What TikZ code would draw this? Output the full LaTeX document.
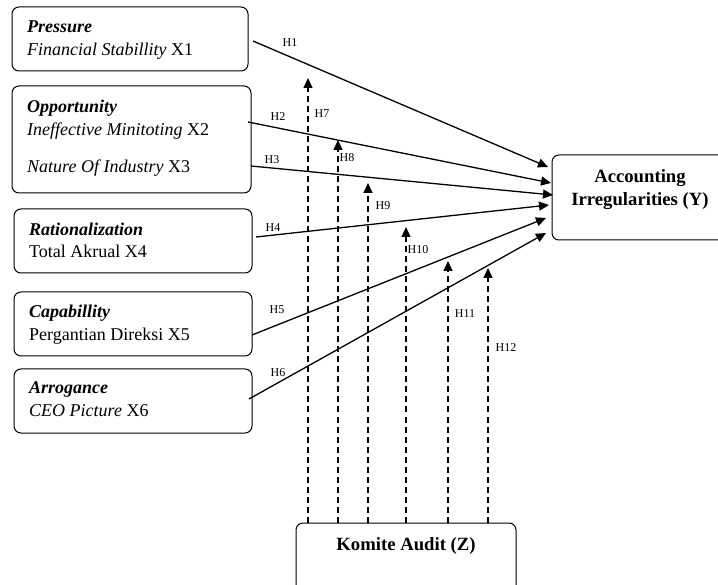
\documentclass[tikz,border=0pt]{standalone}
\usepackage{fontspec}
\setmainfont{Liberation Serif}
\usetikzlibrary{arrows.meta}
\begin{document}
\begin{tikzpicture}[x=1pt,y=-1pt,
  box/.style={draw,line width=1pt,rounded corners=7pt,inner sep=0pt},
  txt/.style={anchor=base west,inner sep=0pt,font=\fontsize{18}{21}\selectfont},
  ttl/.style={anchor=base,inner sep=0pt,font=\fontsize{18.7}{21}\selectfont\bfseries},
  lbl/.style={inner sep=0pt,font=\fontsize{12}{14}\selectfont},
  solidarrow/.style={line width=1.3pt,-{Triangle[length=10pt,width=9pt]}},
  dasharrow/.style={line width=1.3pt,dash pattern=on 6pt off 4pt,-{Triangle[length=10pt,width=9pt]}}]
\useasboundingbox (0,0) rectangle (718,585);
% boxes
\node[box,minimum width=236pt,minimum height=64pt] (bx1) at (130,39) {};
\node[box,minimum width=239pt,minimum height=107pt] (bx2) at (131.5,139.5) {};
\node[box,minimum width=238pt,minimum height=64pt] (bx4) at (133,241) {};
\node[box,minimum width=238pt,minimum height=64pt] (bx5) at (133,324) {};
\node[box,minimum width=238pt,minimum height=64pt] (bx6) at (133,401) {};
\node[box,minimum width=178pt,minimum height=85pt] (Y) at (641,197.5) {};
\node[box,minimum width=220pt,minimum height=77pt] (Z) at (406,561.5) {};
% texts
\node[txt] (p1) at (27,33) {\textbf{\textit{Pressure}}};
\node[txt] (p2) at (27,56) {\textit{Financial Stabillity} X1};
\node[txt] (o1) at (27,113) {\textbf{\textit{Opportunity}}};
\node[txt] (o2) at (27,136) {\textit{Ineffective Minitoting} X2};
\node[txt] (o3) at (27,173) {\textit{Nature Of Industry} X3};
\node[txt] (r1) at (29,236) {\textbf{\textit{Rationalization}}};
\node[txt] (r2) at (29,258) {Total Akrual X4};
\node[txt] (c1) at (29,318) {\textbf{\textit{Capabillity}}};
\node[txt] (c2) at (29,341) {Pergantian Direksi X5};
\node[txt] (a1) at (29,394) {\textbf{\textit{Arrogance}}};
\node[txt] (a2) at (29,417) {\textit{CEO Picture} X6};
\node[ttl] (y1) at (640,183) {Accounting};
\node[ttl] (y2) at (640,206) {Irregularities (Y)};
\node[ttl] (z1) at (406,550) {Komite Audit (Z)};
% solid connectors
\coordinate (s1) at (253,41);  \coordinate (e1) at (548,167);
\coordinate (s2) at (248,122); \coordinate (e2) at (551,183);
\coordinate (s3) at (251,166); \coordinate (e3) at (553,195);
\coordinate (s4) at (256,237); \coordinate (e4) at (549,205);
\coordinate (s5) at (252,335); \coordinate (e5) at (546,218);
\coordinate (s6) at (249,399); \coordinate (e6) at (546,233);
\foreach \i in {1,...,6} {\draw[solidarrow] (s\i) -- (e\i);}
% dashed connectors
\coordinate (t7) at (308,78);
\coordinate (t8) at (338,140);
\coordinate (t9) at (368,183);
\coordinate (t10) at (406,227);
\coordinate (t11) at (448,261);
\coordinate (t12) at (488,268);
\foreach \i in {7,...,12} {\draw[dasharrow] (t\i |- Z.north) -- (t\i);}
% labels
\node[lbl] (h1) at (290,43) {H1};
\node[lbl] (h2) at (278,117) {H2};
\node[lbl] (h3) at (272,160) {H3};
\node[lbl] (h4) at (273,228) {H4};
\node[lbl] (h5) at (277,310) {H5};
\node[lbl] (h6) at (278,373) {H6};
\node[lbl] (h7) at (322,114) {H7};
\node[lbl] (h8) at (347,158) {H8};
\node[lbl] (h9) at (383,206) {H9};
\node[lbl] (h10) at (418,250) {H10};
\node[lbl] (h11) at (465,314) {H11};
\node[lbl] (h12) at (506,348) {H12};
\end{tikzpicture}
\end{document}
